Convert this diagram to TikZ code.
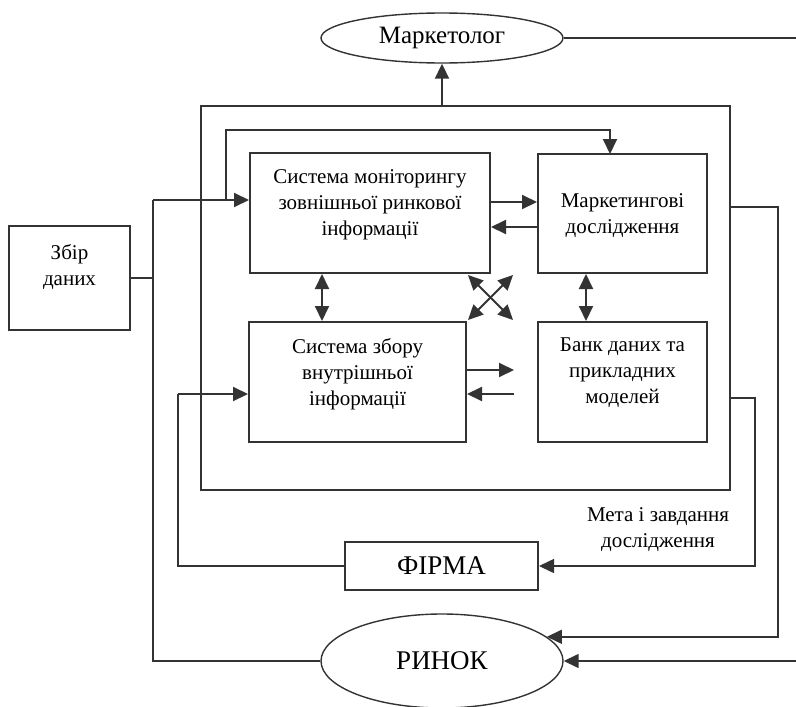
\documentclass[tikz,border=0pt]{standalone}
\usepackage{fontspec}
\setmainfont{Liberation Serif}
\usetikzlibrary{arrows.meta,shapes.geometric}
\definecolor{ink}{HTML}{333333}
\begin{document}
\begin{tikzpicture}[x=1pt,y=-1pt,
  box/.style={draw=ink, line width=2pt, rectangle, inner sep=0pt},
  oval/.style={draw=ink, line width=1.4pt, ellipse, inner sep=0pt},
  txt/.style={align=center, inner sep=0pt, font=\fontsize{21}{26}\selectfont},
  mid/.style={font=\fontsize{25}{30}\selectfont},
  big/.style={font=\fontsize{27}{32}\selectfont},
  link/.style={draw=ink, line width=2pt},
  wire/.style={draw=ink, line width=1.5pt},
  tip/.style={-{Triangle[length=15pt,width=14pt]}},
  both/.style={{Triangle[length=15pt,width=14pt]}-{Triangle[length=15pt,width=14pt]}},
]
\useasboundingbox (0,0) rectangle (796,707);

% ellipses
\node[oval, mid, minimum width=242pt, minimum height=50pt] (mk) at (442,38) {Маркетолог};
\node[oval, big, minimum width=242pt, minimum height=94pt] (rn) at (442,661) {РИНОК};

% frame of the information system
\node[box, minimum width=529pt, minimum height=384pt] (outer) at (465.5,298) {};

% inner blocks
\node[box, minimum width=240pt, minimum height=120pt] (b1) at (370,213) {};
\node[box, minimum width=169pt, minimum height=119pt] (b2) at (622.5,213.5) {};
\node[box, minimum width=217pt, minimum height=120pt] (b3) at (357.5,382) {};
\node[box, minimum width=169pt, minimum height=120pt] (b4) at (622.5,382) {};
\node[box, minimum width=121pt, minimum height=104pt] (zb) at (69.5,278) {};
\node[box, big, minimum width=193pt, minimum height=48pt] (firm) at (441.5,566) {ФІРМА};

% block texts
\node[txt] (t1) at (370,205) {Система моніторингу\\зовнішньої ринкової\\інформації};
\node[txt] (t2) at (622.5,216) {Маркетингові\\дослідження};
\node[txt] (t3) at (357.5,374) {Система збору\\внутрішньої\\інформації};
\node[txt] (t4) at (622.5,373) {Банк даних та\\прикладних\\моделей};
\node[txt] (tz) at (69.5,267) {Збір\\даних};
\node[txt] (goal) at (658,530) {Мета і завдання\\дослідження};

% helper points
\coordinate (mout) at (796,38);
\coordinate (fork) at (226,200);
\coordinate (loopL) at (226,130);
\coordinate (loopR) at (610,130);
\coordinate (b2in) at (610,154);
\coordinate (bustop) at (153,200);
\coordinate (busbot) at (153,661);
\coordinate (r1) at (514,370);
\coordinate (r2) at (514,394);
\coordinate (fb) at (178,394);
\coordinate (g1) at (755,398);
\coordinate (g2) at (778,207);
\coordinate (rin) at (796,661);
\coordinate (c1) at (468,275);
\coordinate (c2) at (513,320);
\coordinate (c3) at (513,275);
\coordinate (c4) at (468,320);

% Marketer
\draw[wire] (mk.east) -- (mout);
\draw[link,tip] (mk.south |- outer.north) -- (mk.south);

% feedback loop to research
\draw[link,tip] (fork) -- (loopL) -- (loopR) -- (b2in);

% data collection bus
\draw[wire] (zb.east) -- (zb.east -| bustop);
\draw[wire] (bustop) -- (busbot) -- (rn.west);
\draw[link,tip] (bustop) -- (b1.west |- bustop);

% exchanges between blocks
\draw[link,tip] ([yshift=11pt]b1.east) -- ([yshift=11pt]b1.east -| b2.west);
\draw[link,tip] ([yshift=-14pt]b1.east -| b2.west) -- ([yshift=-14pt]b1.east);
\draw[link,both] ([xshift=-48pt]b1.south) -- ([xshift=-48pt]b1.south |- b3.north);
\draw[link,both] ([xshift=-36.5pt]b2.south) -- ([xshift=-36.5pt]b2.south |- b4.north);
\draw[link,both] (c1) -- (c2);
\draw[link,both] (c3) -- (c4);
\draw[link,tip] (b3.east |- r1) -- (r1);
\draw[link,tip] (r2) -- (b3.east |- r2);

% firm
\draw[link,tip] (fb) -- (b3.west |- fb);
\draw[wire] (fb) |- (firm.west);
\draw[wire,tip] (outer.east |- g1) -- (g1) |- (firm.east);

% market
\draw[wire,tip] (outer.east |- g2) -- (g2) |- (rn.13);
\draw[wire,tip] (rin) -- (rn.east);
\end{tikzpicture}
\end{document}
